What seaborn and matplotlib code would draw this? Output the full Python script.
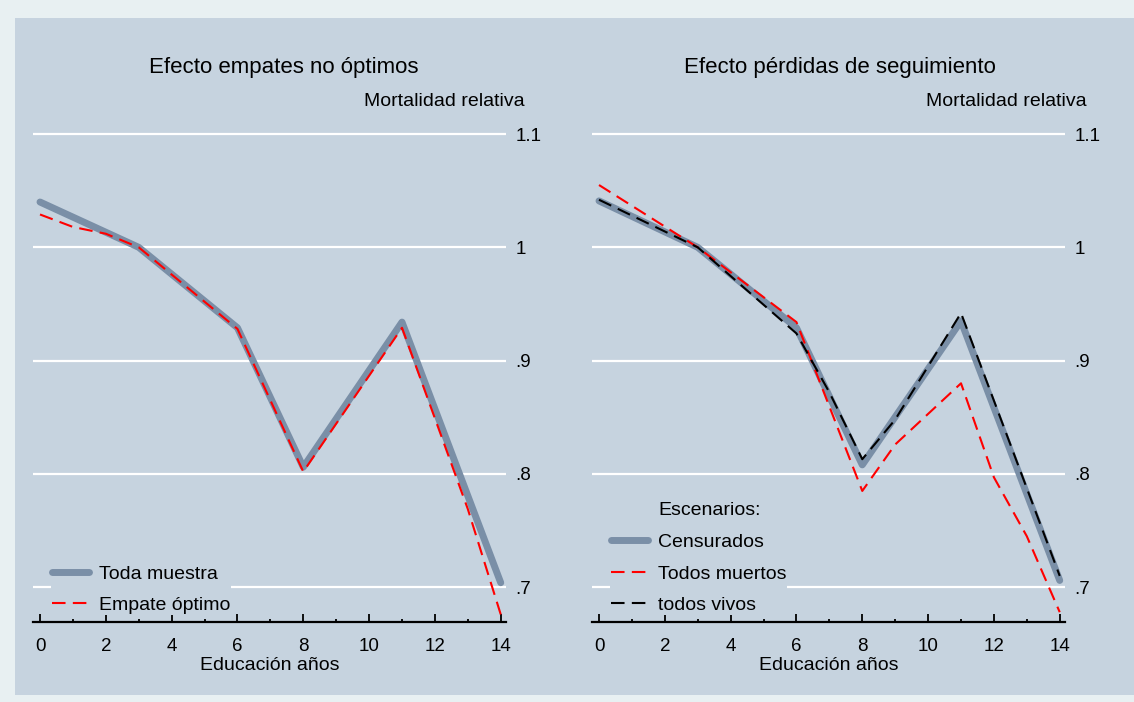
import matplotlib
matplotlib.use("Agg")
import matplotlib.pyplot as plt
from matplotlib.lines import Line2D
from matplotlib.patches import Rectangle
import pandas as pd
import seaborn as sns

# Data (education years vs relative mortality)
# left panel: "Efecto empates no óptimos"
toda_x = [0, 3, 6, 8, 11, 14]
toda_y = [1.040, 1.000, 0.929, 0.806, 0.934, 0.704]
empate_x = [0, 1, 2, 3, 6, 8, 11, 13, 14]
empate_y = [1.029, 1.018, 1.012, 1.000, 0.928, 0.802, 0.929, 0.769, 0.676]

# right panel: "Efecto pérdidas de seguimiento"
cens_x = [0, 3, 6, 8, 11, 14]
cens_y = [1.041, 1.000, 0.929, 0.808, 0.935, 0.706]
muertos_x = [0, 3, 6, 8, 9, 11, 12, 13, 14]
muertos_y = [1.055, 1.000, 0.934, 0.785, 0.826, 0.880, 0.797, 0.745, 0.678]
vivos_x = [0, 3, 6, 7, 8, 9, 10, 11, 14]
vivos_y = [1.042, 1.000, 0.924, 0.872, 0.813, 0.848, 0.895, 0.942, 0.710]

yticks = [0.7, 0.8, 0.9, 1.0, 1.1]
ytick_labels = [".7", ".8", ".9", "1", "1.1"]
xticks = list(range(0, 15, 2))

titles = ["Efecto empates no óptimos", "Efecto pérdidas de seguimiento"]

BG = "#c6d3df"
OUTER = "#e8f0f2"
GRAY = "#7a8fa7"
LW_THICK = 5.0
LW_DASH = 1.5

sns.set_style("white")
plt.rcParams["font.family"] = ["Liberation Sans", "DejaVu Sans"]
plt.rcParams["text.color"] = "black"
plt.rcParams["xtick.color"] = "black"
plt.rcParams["ytick.color"] = "black"
plt.rcParams["axes.labelcolor"] = "black"

W, H = 1134, 702
fig = plt.figure(figsize=(W / 100, H / 100), dpi=100)
fig.patch.set_facecolor(OUTER)
fig.patches.append(Rectangle((15 / W, 1 - 695 / H), 1 - 15 / W, (695 - 18) / H,
                             transform=fig.transFigure, facecolor=BG,
                             edgecolor="none", zorder=-10))

ax_l = fig.add_axes([33 / W, 80.3 / H, 473 / W, 492.2 / H])
ax_r = fig.add_axes([592 / W, 80.3 / H, 473 / W, 492.2 / H])


def draw(ax, x, y, color, lw, dashed=False):
    df = pd.DataFrame({"x": x, "y": y})
    sns.lineplot(data=df, x="x", y="y", ax=ax, color=color, linewidth=lw,
                 estimator=None, sort=False, legend=False)
    line = ax.lines[-1]
    line.set_clip_on(False)
    if dashed:
        line.set_dashes((6.5, 3.5))
    else:
        line.set_solid_capstyle("round")
        line.set_solid_joinstyle("round")
    return line


# left panel
draw(ax_l, toda_x, toda_y, GRAY, LW_THICK)
draw(ax_l, empate_x, empate_y, "red", LW_DASH, dashed=True)

# right panel
draw(ax_r, cens_x, cens_y, GRAY, LW_THICK)
draw(ax_r, muertos_x, muertos_y, "red", LW_DASH, dashed=True)
draw(ax_r, vivos_x, vivos_y, "black", LW_DASH, dashed=True)

for ax, title, cx in zip([ax_l, ax_r], titles, [284, 840]):
    ax.set_facecolor("none")
    ax.set_xlim(-0.213, 14.16)
    ax.set_ylim(0.6696, 1.104)
    ax.set_xticks(xticks)
    ax.set_xticks(range(1, 15, 2), minor=True)
    ax.set_yticks(yticks)
    ax.set_yticklabels(ytick_labels)
    ax.yaxis.tick_right()
    ax.tick_params(axis="y", length=0, pad=7, labelsize=13.5)
    ax.tick_params(axis="x", which="major", bottom=True, direction="in", length=6,
                   width=1.3, color="black", pad=12, labelsize=13.5)
    ax.tick_params(axis="x", which="minor", bottom=True, direction="in", length=2.2,
                   width=1.3, color="black")
    for side in ["top", "left", "right"]:
        ax.spines[side].set_visible(False)
    ax.spines["bottom"].set_color("black")
    ax.spines["bottom"].set_linewidth(1.6)
    ax.yaxis.grid(True, color="white", linewidth=1.6)
    ax.xaxis.grid(False)
    ax.set_axisbelow(True)
    ax.set_xlabel("Educación años", fontsize=14, labelpad=1)
    ax.set_ylabel("")
    fig.text(cx / W, 1 - 67 / H, title, ha="center", va="center", fontsize=16)

fig.text(525 / W, 1 - 101 / H, "Mortalidad relativa", ha="right", va="center", fontsize=14)
fig.text(1087 / W, 1 - 101 / H, "Mortalidad relativa", ha="right", va="center", fontsize=14)

# legend boxes sit just above the tick marks, hiding the .7 gridline
leg_kw = dict(loc="lower left", frameon=True, facecolor=BG, edgecolor="none",
              framealpha=1, fontsize=14, handlelength=1.95, handletextpad=0.5,
              labelspacing=0.72, borderpad=0.03, borderaxespad=0)

h_l = [Line2D([], [], color=GRAY, lw=LW_THICK, solid_capstyle="round"),
       Line2D([], [], color="red", lw=LW_DASH, dashes=(6.5, 3.5))]
leg = ax_l.legend(h_l, ["Toda muestra", "Empate óptimo"],
                  bbox_to_anchor=(0.038, 0.014), **leg_kw)
leg.set_zorder(5)

h_r = [Line2D([], [], color="none"),
       Line2D([], [], color=GRAY, lw=LW_THICK, solid_capstyle="round"),
       Line2D([], [], color="red", lw=LW_DASH, dashes=(6.5, 3.5)),
       Line2D([], [], color="black", lw=LW_DASH, dashes=(6.5, 3.5))]
leg = ax_r.legend(h_r, ["Escenarios:", "Censurados", "Todos muertos", "todos vivos"],
                  bbox_to_anchor=(0.038, 0.014), **leg_kw)
leg.set_zorder(5)

fig.savefig("out.png", dpi=100, facecolor=fig.get_facecolor())
